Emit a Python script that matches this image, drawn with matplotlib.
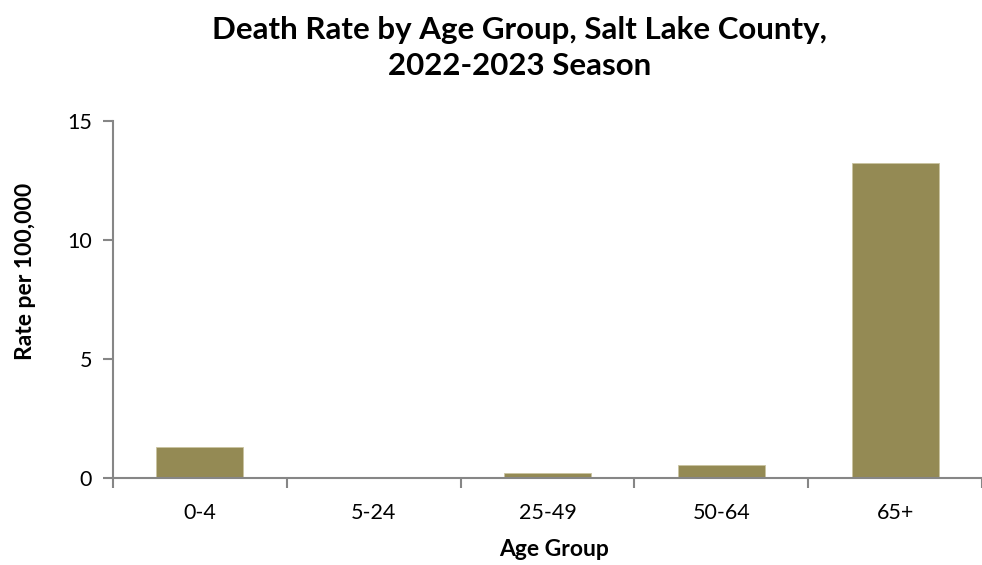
import numpy as np
import matplotlib
matplotlib.use('Agg')
import matplotlib.pyplot as plt

# data
groups = ['0-4', '5-24', '25-49', '50-64', '65+']
rates = [1.28, 0.0, 0.18, 0.53, 13.21]

plt.rcParams['font.family'] = ['Lato', 'DejaVu Sans']

fig = plt.figure(figsize=(9.82, 5.65), dpi=100)
W, H = 982., 565.
# axes box in pixels: left 113, right edge cut by the figure, y0 at 477.7, y15 at 120.7
ax = fig.add_axes([113/W, (H-477.7)/H, (982-113)/W, 357/H])

x = np.arange(len(groups))
ax.bar(x, rates, width=0.5, color='#948A54', edgecolor='#C9C3A0', linewidth=0.6)

axcol = '#868686'
ax.set_ylim(0, 15)
ax.set_yticks([0, 5, 10, 15])
ax.set_xlim(-0.5, -0.5 + 869/175.8)
ax.set_xticks(x)
ax.set_xticklabels(groups, fontsize=15.5)
ax.set_xticks(np.arange(len(groups) + 1) - 0.5, minor=True)
ax.tick_params(axis='x', which='major', length=0, pad=18)
ax.tick_params(axis='x', which='minor', length=7, color=axcol, width=1.5)
ax.tick_params(axis='y', length=7, color=axcol, width=1.5, labelsize=15.5, pad=8)

for s in ['top', 'right']:
  ax.spines[s].set_visible(False)
for s in ['left', 'bottom']:
  ax.spines[s].set_color(axcol)
  ax.spines[s].set_linewidth(1.5)

ax.set_ylabel('Rate per 100,000', fontsize=16.5, fontweight='bold')
ax.set_xlabel('Age Group', fontsize=16.5, fontweight='bold')
# labels sit a bit off-centre in the original
ax.yaxis.set_label_coords(-0.089, 0.578)
ax.xaxis.set_label_coords(0.507, -0.172)

fig.text(520/W, 1 - 48/H, 'Death Rate by Age Group, Salt Lake County,\n2022-2023 Season',
         ha='center', va='center', fontsize=22.5, fontweight='bold', linespacing=1.35)

fig.savefig('out.png', dpi=100)
